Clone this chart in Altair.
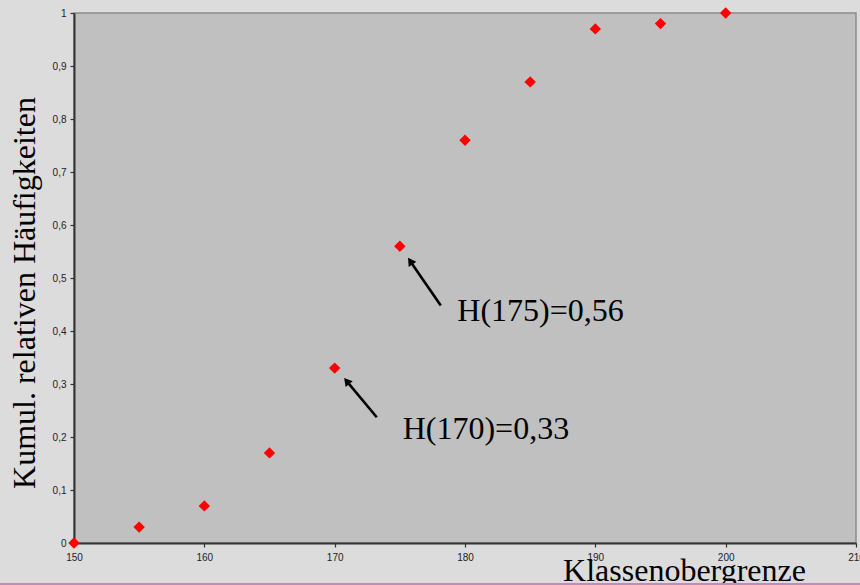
import altair as alt
import pandas as pd

# Data
upper_bounds = [150, 155, 160, 165, 170, 175, 180, 185, 190, 195, 200]
cum_rel_freq = [0.0, 0.03, 0.07, 0.17, 0.33, 0.56, 0.76, 0.87, 0.97, 0.98, 1.0]

x_ticks = [150, 160, 170, 180, 190, 200, 210]
y_ticks = [0, 0.1, 0.2, 0.3, 0.4, 0.5, 0.6, 0.7, 0.8, 0.9, 1.0]

ann_text = ["H(175)=0,56", "H(170)=0,33"]
ann_x = [179.41, 175.22]
ann_y = [0.4184, 0.197]

arrow_tail_x = [178.14, 173.23]
arrow_tail_y = [0.4481, 0.2372]
arrow_head_x = [175.80, 170.92]
arrow_head_y = [0.5318, 0.3055]
arrow_angle = [325.8, 320.6]

pts = pd.DataFrame({"x": upper_bounds, "y": cum_rel_freq})
ann = pd.DataFrame({"x": ann_x, "y": ann_y, "t": ann_text})
arr = pd.DataFrame({"x": arrow_tail_x, "y": arrow_tail_y,
                    "x2": arrow_head_x, "y2": arrow_head_y,
                    "a": arrow_angle})

xscale = alt.Scale(domain=[150, 210], nice=False, zero=False)
yscale = alt.Scale(domain=[0, 1], nice=False)

xaxis = alt.Axis(values=x_ticks, title="Klassenobergrenze", grid=False,
                 labelFont="Liberation Sans", labelFontSize=10, labelColor="#222",
                 labelPadding=5, tickSize=4, tickColor="#333", tickWidth=1.2,
                 domainColor="#333", domainWidth=2,
                 titleFont="Liberation Serif", titleFontSize=32, titleFontWeight="normal",
                 titleColor="#000", titleX=610, titleY=37.7, titleAlign="center",
                 titleBaseline="alphabetic", labelFlush=False, labelOverlap=False)
yaxis = alt.Axis(values=y_ticks, title="Kumul. relativen Häufigkeiten", grid=False,
                 labelExpr="replace(format(datum.value, '.1~f'), '.', ',')",
                 labelFont="Liberation Sans", labelFontSize=10, labelColor="#222",
                 labelPadding=4, tickSize=4, tickColor="#333", tickWidth=1.2,
                 domainColor="#333", domainWidth=2,
                 titleFont="Liberation Serif", titleFontSize=32, titleFontWeight="normal",
                 titleColor="#000", titleX=-39.7, titleY=279.5, titleAngle=-90,
                 titleAlign="center", titleBaseline="alphabetic",
                 labelFlush=False, labelOverlap=False)

points = alt.Chart(pts).mark_point(shape="diamond", filled=True, color="#ff0000",
                                   size=130, opacity=1, strokeWidth=0).encode(
    x=alt.X("x:Q", scale=xscale, axis=xaxis),
    y=alt.Y("y:Q", scale=yscale, axis=yaxis),
)

lines = alt.Chart(arr).mark_rule(color="#000", strokeWidth=2.6).encode(
    x="x:Q", y="y:Q", x2="x2:Q", y2="y2:Q")

heads = alt.Chart(arr).mark_point(shape="triangle-up", filled=True,
                                  color="#000", size=85, opacity=1,
                                  strokeWidth=0).encode(
    x="x2:Q", y="y2:Q", angle=alt.Angle("a:Q", scale=None))

texts = alt.Chart(ann).mark_text(font="Liberation Serif", fontSize=32, align="left",
                                 baseline="alphabetic", color="#000").encode(
    x="x:Q", y="y:Q", text="t:N")

bottom_line = alt.Chart(pts).mark_rule(color="#c38bb8", strokeWidth=1.5).encode(
    x=alt.value(-74), x2=alt.value(786), y=alt.value(571))

chart = alt.layer(points, lines, heads, texts, bottom_line).properties(
    width=782, height=530,
    background="#dcdcdc",
    padding={"left": 74, "top": 13, "right": 4, "bottom": 42},
    autosize=alt.AutoSizeParams(type="none"),
).configure_view(fill="#c0c0c0", stroke="#8c8c8c", strokeWidth=1.5)

chart.save("out.html", embed_options={"renderer": "svg", "actions": False})
